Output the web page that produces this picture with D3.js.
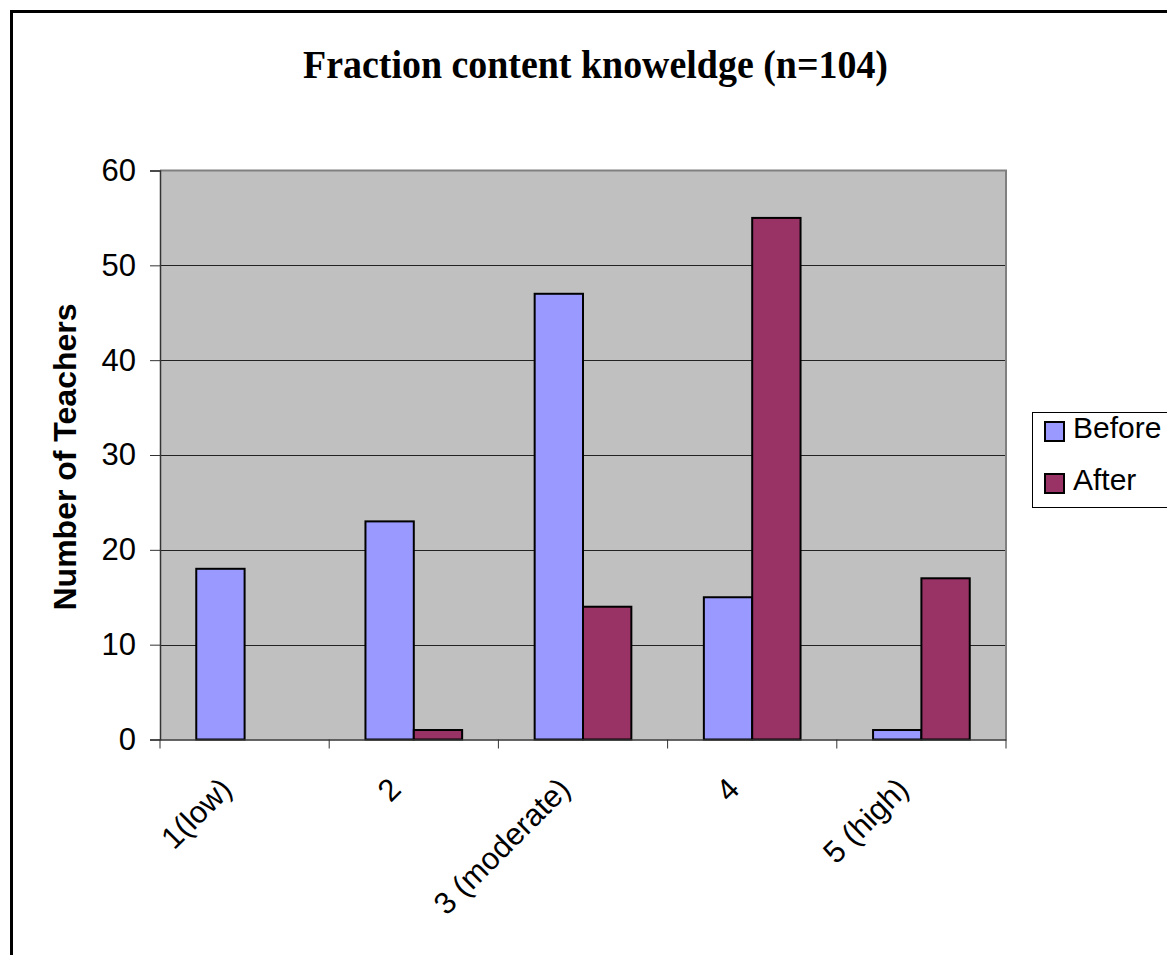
<!DOCTYPE html>
<html>
<head>
<meta charset="utf-8">
<script src="https://cdn.jsdelivr.net/npm/d3@7"></script>
<style>
  html, body { margin: 0; padding: 0; background: #fff; overflow: hidden; }
  svg { display: block; }
</style>
</head>
<body>
<script>
// ---- data ----
const categories = ["1(low)", "2", "3 (moderate)", "4", "5 (high)"];
const seriesNames = ["Before", "After"];
const beforeValues = [18, 23, 47, 15, 1];
const afterValues = [0, 1, 14, 55, 17];
const yTicks = [0, 10, 20, 30, 40, 50, 60];
const seriesColors = ["#9999FF", "#993366"];
const titleText = "Fraction content knoweldge (n=104)";
const yLabelText = "Number of Teachers";

const W = 1167, H = 955;
const plot = { left: 160, right: 1006, top: 170.5, bottom: 739.5 };

const svg = d3.select("body").append("svg").attr("width", W).attr("height", H);

// outer chart border
svg.append("rect")
  .attr("x", 11.5).attr("y", 11.5)
  .attr("width", W + 20).attr("height", H + 20)
  .attr("fill", "#fff").attr("stroke", "#000").attr("stroke-width", 3);

// title
svg.append("text")
  .attr("x", 595.5).attr("y", 78)
  .attr("text-anchor", "middle")
  .attr("font-family", "'Liberation Serif','Times New Roman',serif")
  .attr("font-weight", "bold")
  .attr("font-size", 39)
  .attr("textLength", 585)
  .attr("lengthAdjust", "spacingAndGlyphs")
  .text(titleText);

// scales
const x0 = d3.scaleBand().domain(categories).range([plot.left, plot.right]).padding(0);
const bw = x0.bandwidth();
const x1 = d3.scaleBand().domain(seriesNames).range([bw * 0.2143, bw * 0.7857]).padding(0);
const y = d3.scaleLinear().domain([0, 60]).range([plot.bottom, plot.top]);

// plot area background
svg.append("rect")
  .attr("x", plot.left).attr("y", plot.top)
  .attr("width", plot.right - plot.left).attr("height", plot.bottom - plot.top)
  .attr("fill", "#C0C0C0");

// gridlines
svg.append("g").selectAll("line")
  .data(yTicks.filter(d => d > 0 && d < 60))
  .join("line")
  .attr("x1", plot.left).attr("x2", plot.right)
  .attr("y1", d => Math.round(y(d)) + 0.5).attr("y2", d => Math.round(y(d)) + 0.5)
  .attr("stroke", "#222").attr("stroke-width", 1);

// plot border top/right
svg.append("path")
  .attr("d", `M${plot.left},${plot.top}H${plot.right}V${plot.bottom}`)
  .attr("fill", "none").attr("stroke", "#808080").attr("stroke-width", 2);

// bars
const data = categories.map((c, i) => ({ cat: c, vals: [beforeValues[i], afterValues[i]] }));
const groups = svg.append("g").selectAll("g")
  .data(data).join("g")
  .attr("transform", d => `translate(${x0(d.cat)},0)`);
groups.selectAll("rect")
  .data(d => d.vals.map((v, j) => ({ name: seriesNames[j], v, j })).filter(e => e.v > 0))
  .join("rect")
  .attr("x", d => x1(d.name))
  .attr("width", x1.bandwidth())
  .attr("y", d => y(d.v))
  .attr("height", d => y(0) - y(d.v))
  .attr("fill", d => seriesColors[d.j])
  .attr("stroke", "#000").attr("stroke-width", 2);

// y axis
const yAxis = d3.axisLeft(y).tickValues(yTicks).tickSize(10).tickPadding(14);
const gy = svg.append("g").attr("transform", `translate(${plot.left},0)`).call(yAxis);
gy.select(".domain").attr("stroke", "#333").attr("stroke-width", 1.5);
gy.selectAll(".tick line").attr("stroke", "#333");
gy.selectAll(".tick text")
  .attr("font-family", "Arial, 'Liberation Sans', sans-serif")
  .attr("font-size", 31).attr("fill", "#000");

// x axis
const xAxis = d3.axisBottom(x0).tickSize(0).tickFormat("");
const gx = svg.append("g").attr("transform", `translate(0,${plot.bottom})`).call(xAxis);
gx.select(".domain").attr("stroke", "#333").attr("stroke-width", 1.5);
// boundary ticks
const boundaries = categories.map(c => x0(c)).concat([plot.right]);
svg.append("g").selectAll("line").data(boundaries).join("line")
  .attr("x1", d => d).attr("x2", d => d)
  .attr("y1", plot.bottom).attr("y2", plot.bottom + 9)
  .attr("stroke", "#333").attr("stroke-width", 1);
// rotated category labels
svg.append("g").selectAll("text").data(categories).join("text")
  .attr("transform", d => `translate(${x0(d) + bw / 2 - 11},${791}) rotate(-45)`)
  .attr("text-anchor", "end")
  .attr("font-family", "Arial, 'Liberation Sans', sans-serif")
  .attr("font-size", 31)
  .text(d => d);

// y label
svg.append("text")
  .attr("transform", `translate(76,457) rotate(-90)`)
  .attr("text-anchor", "middle")
  .attr("font-family", "Arial, 'Liberation Sans', sans-serif")
  .attr("font-weight", "bold")
  .attr("font-size", 32)
  .text(yLabelText);

// legend
const lg = svg.append("g");
lg.append("rect")
  .attr("x", 1032.5).attr("y", 412.5)
  .attr("width", 200).attr("height", 95)
  .attr("fill", "#fff").attr("stroke", "#000").attr("stroke-width", 1);
const items = lg.selectAll("g.item").data(seriesNames).join("g")
  .attr("class", "item")
  .attr("transform", (d, i) => `translate(0,${i * 52})`);
items.append("rect")
  .attr("x", 1045).attr("y", 422)
  .attr("width", 19).attr("height", 19)
  .attr("fill", (d, i) => seriesColors[i])
  .attr("stroke", "#000").attr("stroke-width", 2);
items.append("text")
  .attr("x", 1073).attr("y", 438)
  .attr("font-family", "Arial, 'Liberation Sans', sans-serif")
  .attr("font-size", 30)
  .text(d => d);
</script>
</body>
</html>
